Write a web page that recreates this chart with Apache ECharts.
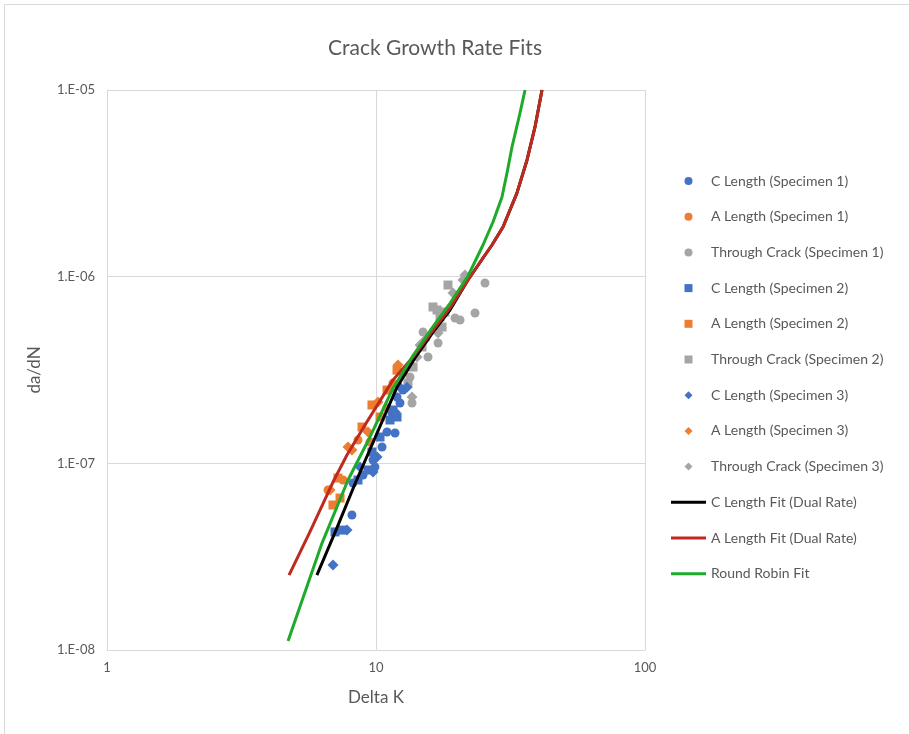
<!DOCTYPE html>
<html>
<head>
<meta charset="utf-8">
<script src="https://cdn.jsdelivr.net/npm/echarts@6/dist/echarts.min.js"></script>
<style>
  html, body { margin: 0; padding: 0; background: #ffffff; }
  #chart { width: 909px; height: 734px; }
</style>
</head>
<body>
<div id="chart"></div>
<script>
// Measured crack growth data: [Delta K, da/dN]
const cLengthSpec1 = [[8.14,5.29e-8],[8.21,7.85e-8],[8.95,8.66e-8],[9.75,1.042e-7],[9.91,9.56e-8],[10.53,1.223e-7],[10.99,1.472e-7],[11.77,1.454e-7],[11.47,1.861e-7],[11.97,2.266e-7],[12.60,2.47e-7],[12.28,2.105e-7]];
const aLengthSpec1 = [[6.63,7.20e-8],[7.54,8.14e-8],[8.57,1.334e-7],[9.50,1.301e-7],[10.99,1.980e-7],[11.57,2.69e-7]];
const throughSpec1 = [[25.42,9.25e-7],[23.34,6.39e-7],[20.53,5.86e-7],[19.67,6.01e-7],[17.01,4.41e-7],[14.96,5.05e-7],[15.61,3.71e-7],[13.61,2.105e-7],[13.38,2.90e-7]];
const cLengthSpec2 = [[7.04,4.29e-8],[7.54,4.39e-8],[8.57,8.14e-8],[9.34,9.21e-8],[9.66,1.150e-7],[10.35,1.384e-7],[11.27,1.707e-7],[11.57,1.931e-7],[11.97,1.771e-7]];
const aLengthSpec2 = [[6.92,5.98e-8],[7.35,6.52e-8],[7.22,8.34e-8],[8.87,1.565e-7],[9.66,2.054e-7],[10.99,2.47e-7],[11.97,3.16e-7],[10.35,1.771e-7]];
const throughSpec2 = [[18.52,9.02e-7],[16.29,6.88e-7],[16.86,6.63e-7],[18.05,6.47e-7],[17.30,6.08e-7],[17.60,5.37e-7],[14.83,4.20e-7],[13.73,3.28e-7],[13.15,2.69e-7]];
const cLengthSpec3 = [[6.92,2.85e-8],[7.80,4.39e-8],[8.72,9.56e-8],[9.75,8.99e-8],[10.09,1.081e-7],[11.77,1.884e-7],[12.28,2.56e-7],[13.04,2.56e-7]];
const aLengthSpec3 = [[6.75,7.20e-8],[7.87,1.223e-7],[8.14,1.179e-7],[9.34,1.472e-7],[10.17,2.131e-7],[11.27,2.47e-7],[12.07,3.36e-7],[12.60,3.05e-7]];
const throughSpec3 = [[21.42,1.021e-6],[21.06,9.60e-7],[19.33,8.17e-7],[17.01,4.99e-7],[15.21,4.58e-7],[14.21,3.71e-7],[13.61,2.266e-7],[14.58,4.30e-7]];

// Fitted curves: [Delta K, da/dN]
const cLengthFit = [[6.03,2.52e-8],[7.10,4.39e-8],[8.35,7.75e-8],[9.91,1.367e-7],[11.97,2.56e-7],[13.96,3.67e-7],[16.29,5.05e-7],[18.84,6.63e-7],[21.98,9.60e-7],[24.99,1.259e-6],[26.99,1.478e-6],[29.66,1.846e-6],[33.43,2.81e-6],[36.43,4.22e-6],[39.01,6.34e-6],[41.41,1.0e-5]];
const aLengthFit = [[4.75,2.52e-8],[5.68,4.29e-8],[6.92,7.94e-8],[7.80,1.108e-7],[9.10,1.605e-7],[11.57,2.80e-7],[13.73,3.71e-7],[16.29,5.18e-7],[18.84,6.80e-7],[21.98,9.60e-7],[24.99,1.259e-6],[26.99,1.478e-6],[29.66,1.846e-6],[33.43,2.81e-6],[36.43,4.22e-6],[39.01,6.34e-6],[41.41,1.0e-5]];
const roundRobinFit = [[4.71,1.117e-8],[6.30,3.74e-8],[7.87,8.14e-8],[9.50,1.384e-7],[11.47,2.47e-7],[13.73,3.78e-7],[16.29,5.40e-7],[18.84,7.20e-7],[21.98,1.008e-6],[24.99,1.478e-6],[27.22,1.963e-6],[29.40,2.67e-6],[30.69,3.59e-6],[32.03,4.95e-6],[34.30,7.53e-6],[35.81,1.0e-5]];

const xTicks = [1, 10, 100];
const yTicks = [1e-8, 1e-7, 1e-6, 1e-5];

const BLUE = '#4472C4', ORANGE = '#ED7D31', GRAY = '#A5A5A5';
const FONT = 'Lato, "Open Sans", sans-serif';
const TEXT = '#595959';

// Legend glyphs (kept square by symbolKeepAspect)
const SQUARE_ICON = 'path://M0,0L1,0L1,1L0,1Z';
const DIAMOND_ICON = 'path://M0.5,0L1,0.5L0.5,1L0,0.5Z';
const LINE_ICON = 'path://M0,0L35,0L35,3L0,3Z';

function scatter(name, data, color, symbol, size) {
  return { name, type: 'scatter', data, symbol, symbolSize: size,
           itemStyle: { color, opacity: 1 }, z: 2 };
}
function fitLine(name, data, color, z) {
  return { name, type: 'line', data, showSymbol: false, symbol: 'none', smooth: false,
           lineStyle: { color, width: 3, join: 'round' }, itemStyle: { color }, z };
}

const chart = echarts.init(document.getElementById('chart'), null, { renderer: 'canvas' });
chart.setOption({
  animation: false,
  backgroundColor: '#ffffff',
  textStyle: { fontFamily: FONT },
  title: {
    text: 'Crack Growth Rate Fits', left: 430, top: 33, textAlign: 'center',
    textStyle: { fontFamily: FONT, fontSize: 21, fontWeight: 'normal', color: TEXT }
  },
  graphic: [
    { type: 'line', shape: { x1: 4.5, y1: 4.5, x2: 909, y2: 4.5 }, style: { stroke: '#d9d9d9', lineWidth: 1 } },
    { type: 'line', shape: { x1: 4.5, y1: 4.5, x2: 4.5, y2: 734 }, style: { stroke: '#d9d9d9', lineWidth: 1 } }
  ],
  grid: { left: 107, right: 264, top: 90, bottom: 84, containLabel: false },
  xAxis: {
    type: 'log', logBase: 10, min: xTicks[0], max: xTicks[xTicks.length - 1],
    name: 'Delta K', nameLocation: 'middle', nameGap: 39,
    nameTextStyle: { fontFamily: FONT, fontSize: 17, color: TEXT },
    axisLine: { lineStyle: { color: '#d9d9d9' } },
    axisTick: { show: false },
    minorTick: { show: false },
    axisLabel: { color: TEXT, fontSize: 13, fontFamily: FONT, margin: 11,
                 formatter: v => String(Math.round(v)) },
    splitLine: { show: true, lineStyle: { color: '#d9d9d9' } }
  },
  yAxis: {
    type: 'log', logBase: 10, min: yTicks[0], max: yTicks[yTicks.length - 1],
    name: 'da/dN', nameLocation: 'middle', nameGap: 64, nameRotate: 90,
    nameTextStyle: { fontFamily: FONT, fontSize: 17, color: TEXT },
    axisLine: { show: true, lineStyle: { color: '#d9d9d9' } },
    axisTick: { show: false },
    axisLabel: { color: TEXT, fontSize: 13, fontFamily: FONT, margin: 12,
                 formatter: v => {
                   const e = Math.round(Math.log10(v));
                   return '1.E' + (e < 0 ? '-' : '+') + String(Math.abs(e)).padStart(2, '0');
                 } },
    splitLine: { show: true, lineStyle: { color: '#d9d9d9' } }
  },
  legend: {
    orient: 'vertical', left: 666, top: 169, padding: 5,
    itemWidth: 35, itemHeight: 8, itemGap: 21.7,
    symbolKeepAspect: true,
    textStyle: { fontFamily: FONT, fontSize: 14, color: TEXT },
    data: [
      { name: 'C Length (Specimen 1)', icon: 'circle' },
      { name: 'A Length (Specimen 1)', icon: 'circle' },
      { name: 'Through Crack (Specimen 1)', icon: 'circle' },
      { name: 'C Length (Specimen 2)', icon: SQUARE_ICON },
      { name: 'A Length (Specimen 2)', icon: SQUARE_ICON },
      { name: 'Through Crack (Specimen 2)', icon: SQUARE_ICON },
      { name: 'C Length (Specimen 3)', icon: DIAMOND_ICON },
      { name: 'A Length (Specimen 3)', icon: DIAMOND_ICON },
      { name: 'Through Crack (Specimen 3)', icon: DIAMOND_ICON },
      { name: 'C Length Fit (Dual Rate)', icon: LINE_ICON },
      { name: 'A Length Fit (Dual Rate)', icon: LINE_ICON },
      { name: 'Round Robin Fit', icon: LINE_ICON }
    ]
  },
  series: [
    scatter('C Length (Specimen 1)', cLengthSpec1, BLUE, 'circle', 9),
    scatter('A Length (Specimen 1)', aLengthSpec1, ORANGE, 'circle', 9),
    scatter('Through Crack (Specimen 1)', throughSpec1, GRAY, 'circle', 9),
    scatter('C Length (Specimen 2)', cLengthSpec2, BLUE, 'rect', 9),
    scatter('A Length (Specimen 2)', aLengthSpec2, ORANGE, 'rect', 9),
    scatter('Through Crack (Specimen 2)', throughSpec2, GRAY, 'rect', 9),
    scatter('C Length (Specimen 3)', cLengthSpec3, BLUE, 'diamond', 11),
    scatter('A Length (Specimen 3)', aLengthSpec3, ORANGE, 'diamond', 11),
    scatter('Through Crack (Specimen 3)', throughSpec3, GRAY, 'diamond', 11),
    fitLine('C Length Fit (Dual Rate)', cLengthFit, '#000000', 3),
    fitLine('A Length Fit (Dual Rate)', aLengthFit, '#BF2A1E', 4),
    fitLine('Round Robin Fit', roundRobinFit, '#1EAA2A', 5)
  ]
});
</script>
</body>
</html>
